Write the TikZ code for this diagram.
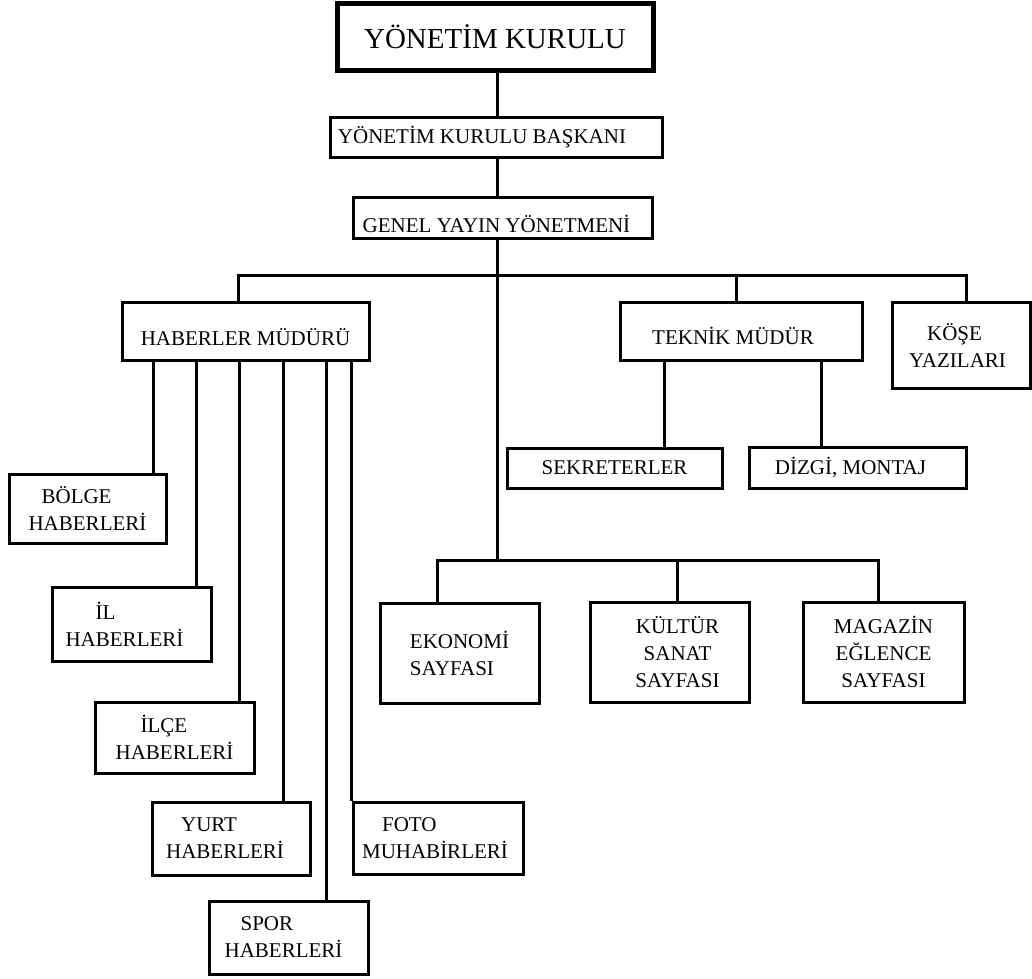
\documentclass[tikz,border=0pt]{standalone}
\usepackage{fontspec}
\setmainfont{Liberation Serif}
\begin{document}
\begin{tikzpicture}[x=1pt,y=-1pt,
  box/.style={draw, line width=3pt, inner sep=0pt, align=left, font=\fontsize{21}{27}\selectfont},
  ln/.style={line width=3pt},
  one/.style 2 args={text height=#1pt, text depth=#2pt}
]
\useasboundingbox (0,0) rectangle (1032,978);

% boxes
\node[box, line width=5pt, minimum width=316pt, minimum height=67pt, font=\fontsize{29}{34}\selectfont] (top) at (495,36.5) {YÖNETİM KURULU};
\node[box, minimum width=332pt, minimum height=40pt] (ykb) at (496,137) {YÖNETİM KURULU BAŞKANI\hspace*{28pt}};
\node[box, minimum width=299pt, minimum height=41pt, one={29}{0}] (gyy) at (502.5,217.5) {GENEL YAYIN YÖNETMENİ\hspace*{12pt}};
\node[box, minimum width=247pt, minimum height=58pt, one={28}{0}] (hab) at (245.5,331) {HABERLER MÜDÜRÜ};
\node[box, minimum width=242pt, minimum height=58pt, one={26}{0}] (tek) at (741,331) {TEKNİK MÜDÜR\hspace*{16pt}};
\node[box, minimum width=138pt, minimum height=86pt] (kose) at (961,345) {\hspace*{18pt}KÖŞE\\YAZILARI\hspace*{7pt}};
\node[box, minimum width=215pt, minimum height=40pt] (sek) at (614.5,468) {SEKRETERLER};
\node[box, minimum width=217pt, minimum height=41pt] (diz) at (857.5,467.5) {DİZGİ, MONTAJ\hspace*{14pt}};

\node[box, minimum width=157pt, minimum height=69pt] (bol) at (87.5,508.5) {\hspace*{13pt}BÖLGE\\HABERLERİ};
\node[box, minimum width=159pt, minimum height=74pt] (il) at (131.5,624) {\hspace*{30pt}İL\\HABERLERİ\hspace*{14pt}};
\node[box, minimum width=159pt, minimum height=71pt] (ilce) at (174.5,737.5) {\hspace*{25pt}İLÇE\\HABERLERİ};
\node[box, minimum width=158pt, minimum height=73pt] (yurt) at (231,838.5) {\hspace*{15pt}YURT\\HABERLERİ\hspace*{12pt}};
\node[box, minimum width=159pt, minimum height=73pt] (spor) at (288.5,937.5) {\hspace*{16pt}SPOR\\HABERLERİ\hspace*{10pt}};
\node[box, minimum width=170pt, minimum height=72pt] (foto) at (438,838) {\hspace*{20pt}FOTO\\MUHABİRLERİ\hspace*{6pt}};

\node[box, minimum width=159pt, minimum height=100pt] (eko) at (459.5,653) {EKONOMİ\\SAYFASI};
\node[box, align=center, minimum width=159pt, minimum height=100pt] (kul) at (669.5,652) {\hspace*{16pt}KÜLTÜR\\\hspace*{16pt}SANAT\\\hspace*{16pt}SAYFASI};
\node[box, align=center, minimum width=161pt, minimum height=100pt] (mag) at (883.5,652) {MAGAZİN\\EĞLENCE\\SAYFASI};

% reference coordinates
\coordinate (spine) at (497,0);
\coordinate (b1l) at (238,275);
\coordinate (b1r) at (966,275);
\coordinate (tekx) at (736,275);
\coordinate (b2) at (497,560);
\coordinate (ekx) at (437,560);
\coordinate (kulx) at (677,560);
\coordinate (magx) at (878,560);
\coordinate (sekx) at (664,0);
\coordinate (dizx) at (821,0);
\coordinate (h1) at (153,0);
\coordinate (h2) at (196,0);
\coordinate (h3) at (239,0);
\coordinate (h4) at (283,0);
\coordinate (h5) at (326,0);

% connectors
\draw[ln] (top.south -| spine) -- (ykb.north -| spine);
\draw[ln] (ykb.south -| spine) -- (gyy.north -| spine);
\draw[ln] (gyy.south -| spine) -- (b2);
\draw[ln] (hab.north -| b1l) -- (b1l) -- (b1r) -- (kose.north -| b1r);
\draw[ln] (tekx) -- (tek.north -| tekx);
\draw[ln] (tek.south -| sekx) -- (sek.north -| sekx);
\draw[ln] (tek.south -| dizx) -- (diz.north -| dizx);
\draw[ln] (eko.north -| ekx) -- (ekx) -- (magx) -- (mag.north -| magx);
\draw[ln] (kulx) -- (kul.north -| kulx);
\draw[ln] (hab.south -| h1) -- (bol.north -| h1);
\draw[ln] (hab.south -| h2) -- (il.north -| h2);
\draw[ln] (hab.south -| h3) -- (ilce.north -| h3);
\draw[ln] (hab.south -| h4) -- (yurt.north -| h4);
\draw[ln] (hab.south -| h5) -- (spor.north -| h5);
\draw[ln] (hab.south -| foto.west) -- (foto.north west);
\end{tikzpicture}
\end{document}
